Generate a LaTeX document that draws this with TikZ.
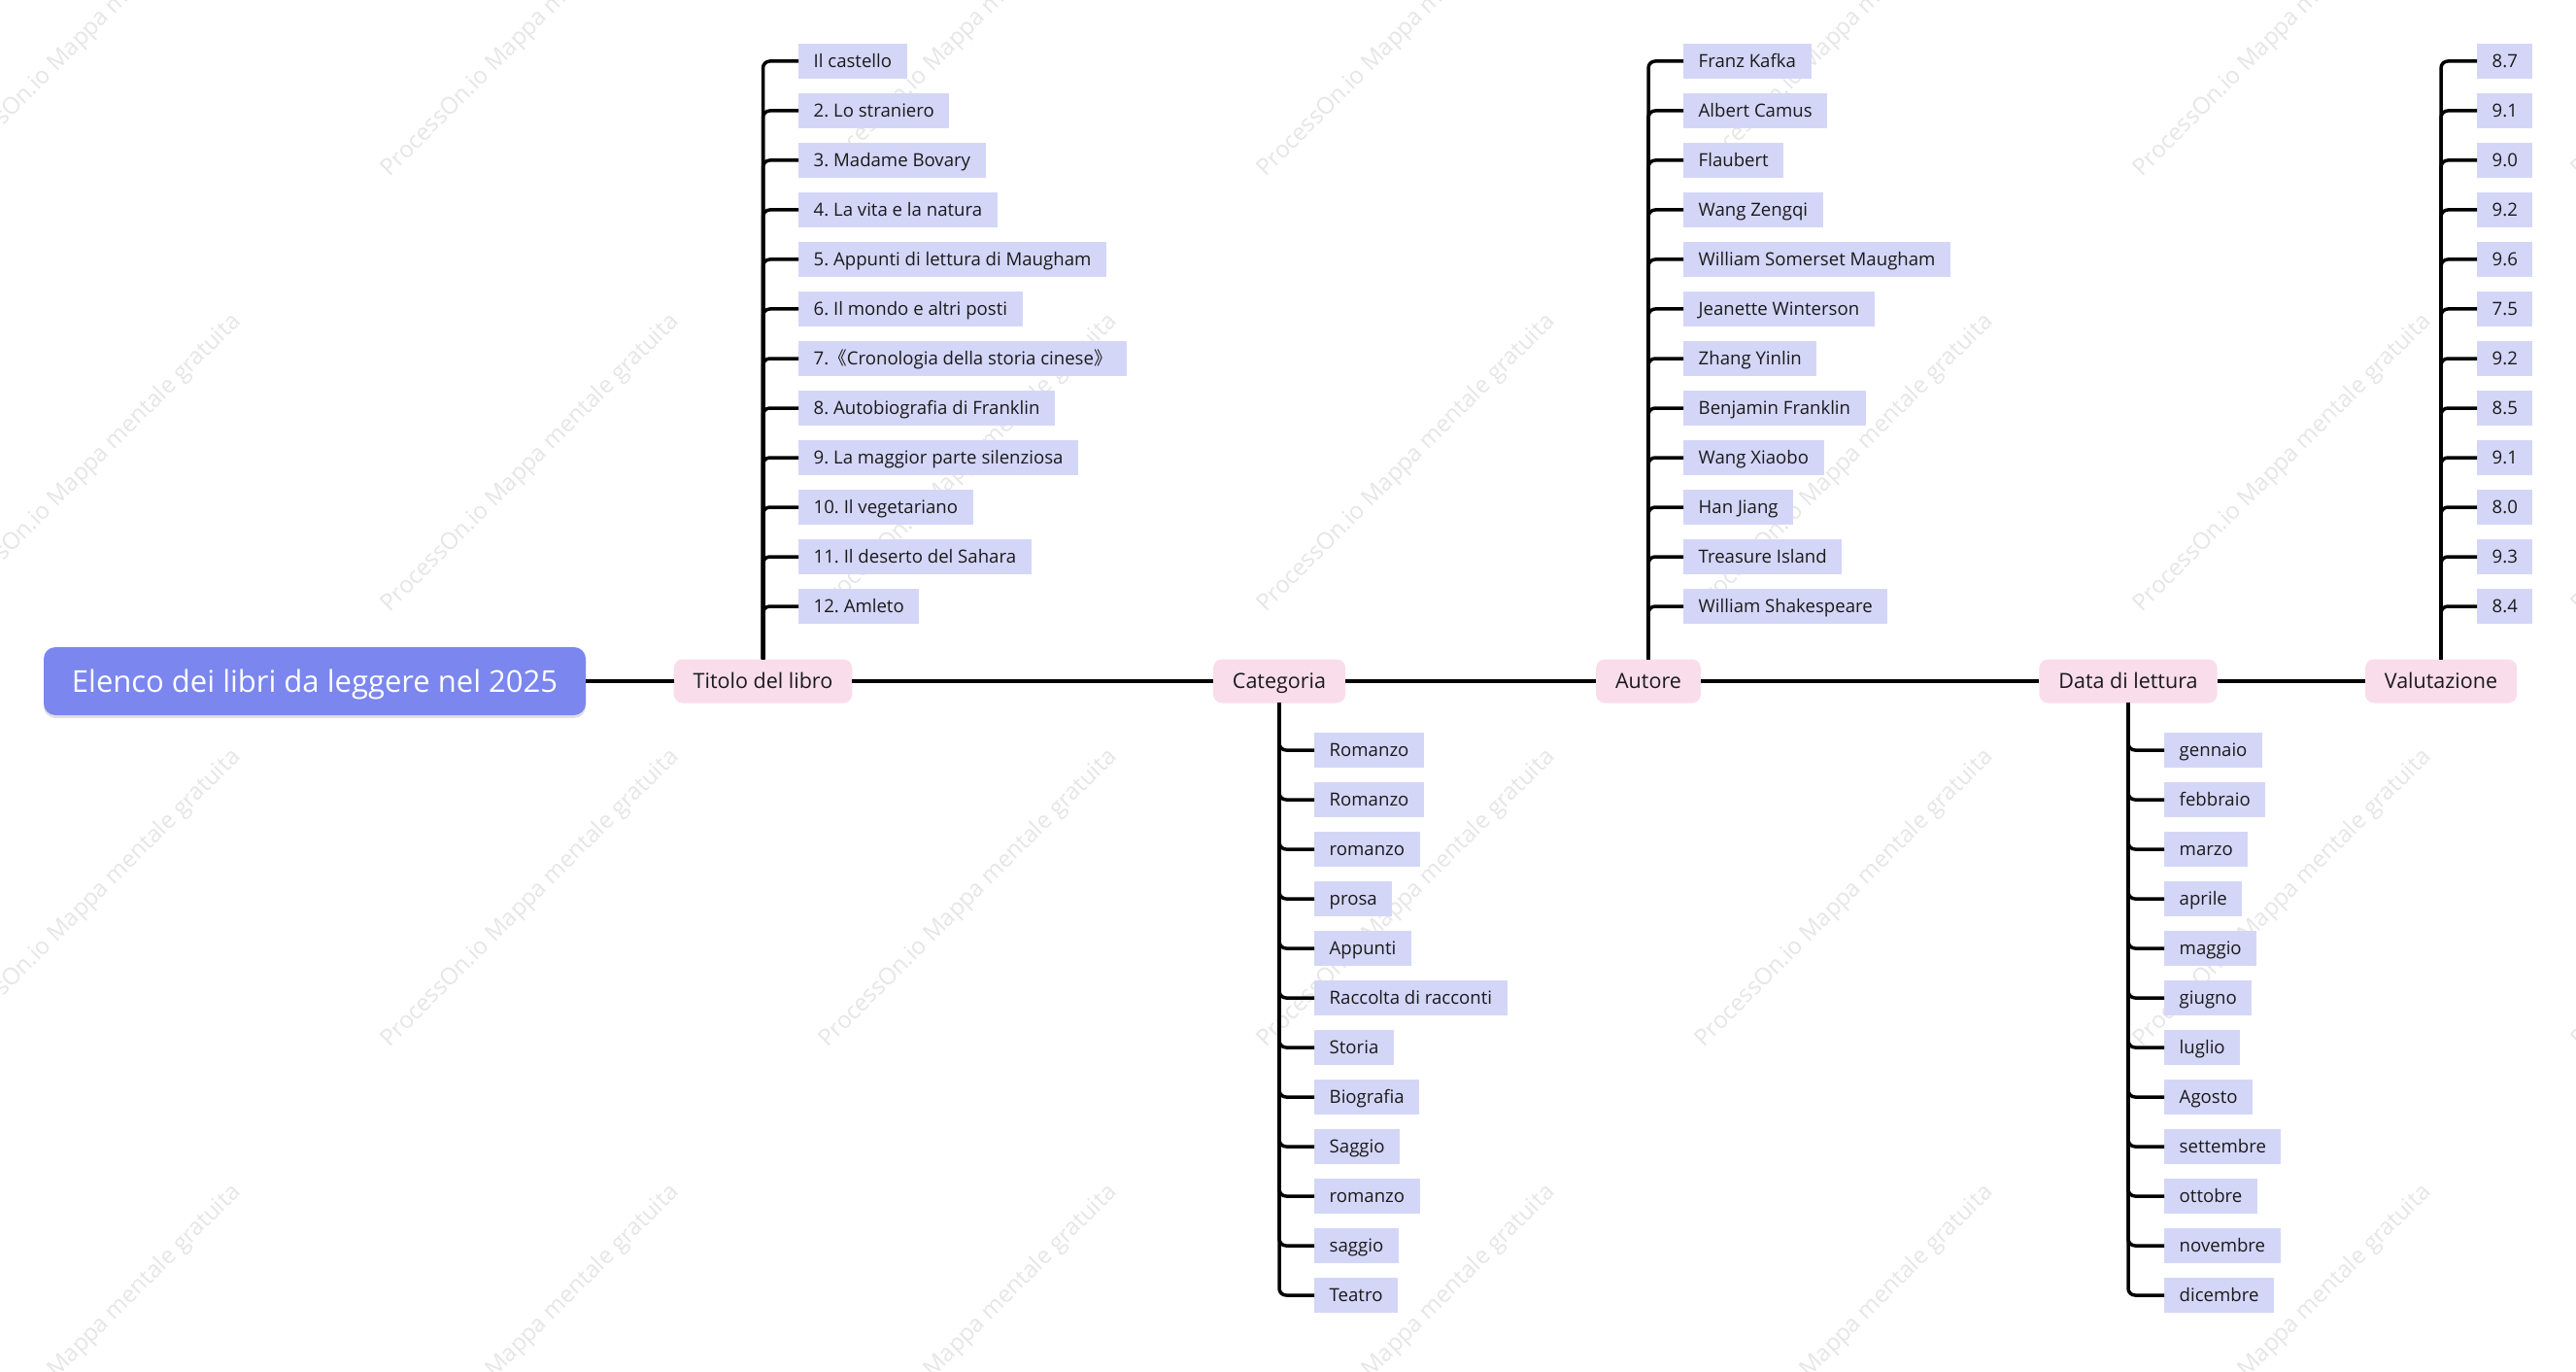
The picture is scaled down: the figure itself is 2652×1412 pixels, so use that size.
\documentclass[tikz,border=0pt]{standalone}
\usepackage{fontspec}
\setmainfont{Open Sans}
\newfontfamily\cjk{Noto Sans CJK SC}
\usetikzlibrary{shadows}
\definecolor{mainfill}{HTML}{7B86EE}
\definecolor{catfill}{HTML}{F9DDEB}
\definecolor{itemfill}{HTML}{D4D6F8}
\definecolor{wmark}{HTML}{E6E6E6}
\definecolor{ink}{HTML}{1A1A1A}
\frenchspacing
\begin{document}
\begin{tikzpicture}[x=1pt,y=-1pt,
  rootbox/.style={fill=mainfill, rounded corners=12pt, minimum width=558pt, minimum height=70pt,
    inner sep=0pt, text=white, font=\fontsize{31}{36}\selectfont, text height=22.1pt, text depth=0pt,
    drop shadow={shadow xshift=0pt, shadow yshift=-3pt, opacity=0.12, fill=black}},
  catbox/.style={fill=catfill, rounded corners=9pt, minimum height=45pt, inner xsep=20pt, inner ysep=0pt,
    text=ink, font=\fontsize{21.5}{26}\selectfont, text height=15.35pt, text depth=0pt},
  itembox/.style={fill=itemfill, minimum height=36pt, inner xsep=15.5pt, inner ysep=0pt, text=ink,
    font=\fontsize{18.6}{22}\selectfont, text height=13.3pt, text depth=0pt, anchor=west},
  link/.style={draw=black, line width=3.5pt},
  branch/.style={draw=black, line width=3.5pt, rounded corners=7pt},
  wm/.style={rotate=45, text=wmark, font=\fontsize{24}{28}\selectfont, inner sep=0pt}
]
\fill[white] (0,0) rectangle (2652,1412);
\useasboundingbox (0,0) rectangle (2652,1412);

% watermarks
\foreach \wx in {95,546,997,1448,1899,2350,2801}{
  \foreach \wy in {29,477,925,1373}{
    \node[wm] (wm-\wx-\wy) at (\wx,\wy) {ProcessOn.io Mappa mentale gratuita};
  }
}

% root and categories
\node[rootbox] (root) at (324,701) {Elenco dei libri da leggere nel 2025};
\node[catbox] (t1) at (785.5,701) {Titolo del libro};
\node[catbox] (t2) at (1317,701) {Categoria};
\node[catbox] (t3) at (1697,701) {Autore};
\node[catbox] (t4) at (2191,701) {Data di lettura};
\node[catbox] (t5) at (2513,701) {Valutazione};

\draw[link] (root.east) -- (t1.west);
\draw[link] (t1.east) -- (t2.west);
\draw[link] (t2.east) -- (t3.west);
\draw[link] (t3.east) -- (t4.west);
\draw[link] (t4.east) -- (t5.west);

% Titolo del libro
\foreach \t [count=\k from 0] in {{Il castello},{2. Lo straniero},{3. Madame Bovary},{4. La vita e la natura},
  {5. Appunti di lettura di Maugham},{6. Il mondo e altri posti},{7.{\cjk 《}Cronologia della storia cinese{\cjk 》}},
  {8. Autobiografia di Franklin},{9. La maggior parte silenziosa},{10. Il vegetariano},
  {11. Il deserto del Sahara},{12. Amleto}}{
  \node[itembox] (a\k) at (822,63+51*\k) {\t};
  \draw[branch] (t1.north) |- (a\k.west);
}

% Categoria
\foreach \t [count=\k from 0] in {Romanzo,Romanzo,romanzo,prosa,Appunti,Raccolta di racconti,Storia,
  Biografia,Saggio,romanzo,saggio,Teatro}{
  \node[itembox] (b\k) at (1353,772+51*\k) {\t};
  \draw[branch] (t2.south) |- (b\k.west);
}

% Autore
\foreach \t [count=\k from 0] in {Franz Kafka,Albert Camus,Flaubert,Wang Zengqi,William Somerset Maugham,
  Jeanette Winterson,Zhang Yinlin,Benjamin Franklin,Wang Xiaobo,Han Jiang,Treasure Island,William Shakespeare}{
  \node[itembox] (c\k) at (1733,63+51*\k) {\t};
  \draw[branch] (t3.north) |- (c\k.west);
}

% Data di lettura
\foreach \t [count=\k from 0] in {gennaio,febbraio,marzo,aprile,maggio,giugno,luglio,Agosto,settembre,
  ottobre,novembre,dicembre}{
  \node[itembox] (d\k) at (2228,772+51*\k) {\t};
  \draw[branch] (t4.south) |- (d\k.west);
}

% Valutazione
\foreach \t [count=\k from 0] in {8.7,9.1,9.0,9.2,9.6,7.5,9.2,8.5,9.1,8.0,9.3,8.4}{
  \node[itembox] (e\k) at (2550,63+51*\k) {\t};
  \draw[branch] (t5.north) |- (e\k.west);
}
\end{tikzpicture}
\end{document}
